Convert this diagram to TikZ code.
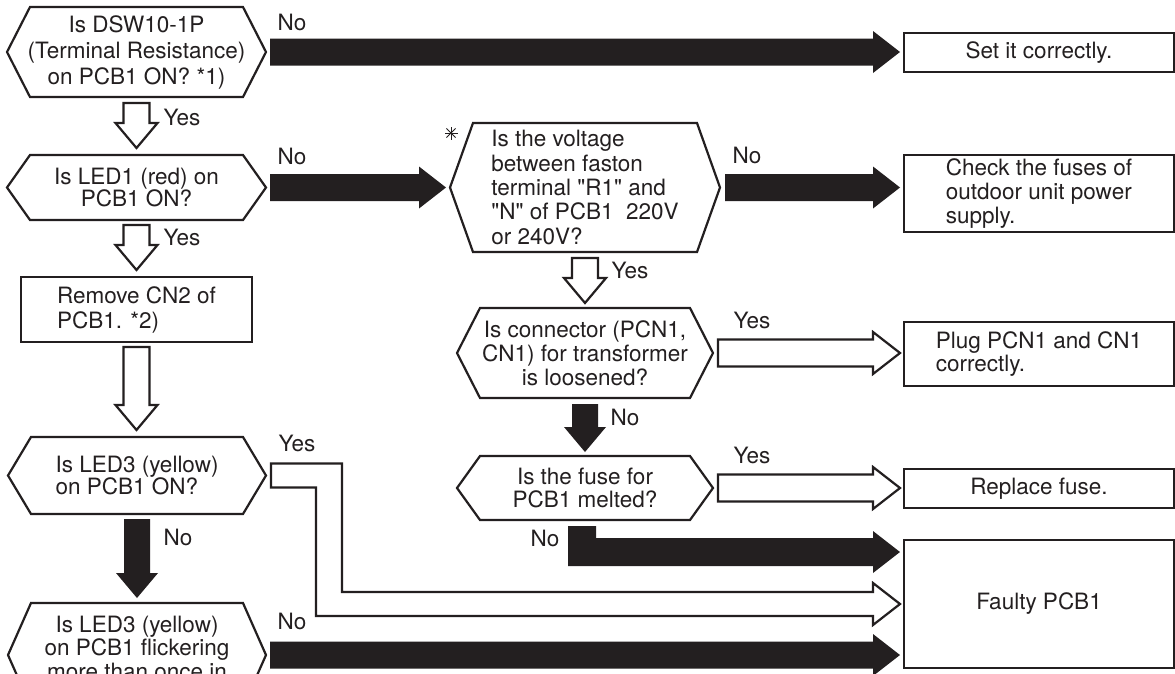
\documentclass[tikz,border=0pt]{standalone}
\usepackage{fontspec}
\setmainfont{TeX Gyre Heros}
\usetikzlibrary{calc}
\definecolor{Ink}{HTML}{231F20}

% straight double quote, kept out of the TeX mapping
\newcommand{\dq}{\XeTeXglyph\XeTeXcharglyph"22\relax}

% hexagon round a query node
\newcommand{\queryframe}[1]{%
  \draw[frame] (#1.west) -- ([xshift=23pt]#1.north west) -- ([xshift=-23pt]#1.north east)
    -- (#1.east) -- ([xshift=-23pt]#1.south east) -- ([xshift=23pt]#1.south west) -- cycle;}

% broad arrows
\newcommand{\fatright}[3]{%
  \path[#1] let \p1=(#2), \p2=(#3) in
    (\x1,\y1+13.5pt) -- (\x2-27pt,\y1+13.5pt) -- (\x2-27pt,\y1+21pt) -- (\x2,\y1)
    -- (\x2-27pt,\y1-21pt) -- (\x2-27pt,\y1-13.5pt) -- (\x1,\y1-13.5pt) -- cycle;}
\newcommand{\fatdown}[3]{%
  \path[#1] let \p1=(#2), \p2=(#3) in
    (\x1-13pt,\y1) -- (\x1+13pt,\y1) -- (\x1+13pt,\y2+25pt) -- (\x1+21pt,\y2+25pt)
    -- (\x1,\y2) -- (\x1-21pt,\y2+25pt) -- (\x1-13pt,\y2+25pt) -- cycle;}

\begin{document}
\begin{tikzpicture}[
  x=1pt, y=-1pt,
  font=\fontsize{22.5}{23.5}\selectfont,
  text=Ink,
  frame/.style={draw=Ink, line width=2.2pt},
  query/.style={
    align=center,
    inner sep=0pt,
    outer sep=0pt
  },
  action/.style={
    draw=Ink,
    line width=2.2pt,
    fill=white,
    align=center,
    inner sep=0pt,
    outer sep=0pt,
    minimum width=270pt
  },
  tag/.style={inner sep=0pt},
  solidarrow/.style={fill=Ink},
  hollowarrow/.style={draw=Ink, line width=2.2pt, fill=white}
]

\useasboundingbox (0,0) rectangle (1175,673);
\clip (0,0) rectangle (1175,673);
\fill[white] (0,0) rectangle (1175,673);

% left column
\node[query, minimum width=259pt, minimum height=90pt,
  font=\fontsize{22.5}{26}\selectfont] (q1) at (136.5,52)
  {Is DSW10-1P\\(Terminal Resistance)\\on PCB1 ON? *1)};
\queryframe{q1}

\node[query, minimum width=259pt, minimum height=65pt,
  font=\fontsize{22.5}{22}\selectfont] (q2) at (136.5,187.5)
  {Is LED1 (red) on\\PCB1 ON?};
\queryframe{q2}

\node[action, align=left, minimum width=231pt, minimum height=65pt,
  font=\fontsize{22.5}{25}\selectfont] (remove) at (136.5,309.5)
  {Remove CN2 of\\PCB1. *2)};

\node[query, align=left, minimum width=258pt, minimum height=77pt,
  font=\fontsize{22.5}{22}\selectfont] (q4) at (137,475.5)
  {Is LED3 (yellow)\\on PCB1 ON?};
\queryframe{q4}

\node[query, minimum width=258pt, minimum height=104pt, text depth=15pt] (q5) at (137,655)
  {Is LED3 (yellow)\\on PCB1 flickering\\more than once in};
\queryframe{q5}

% middle column
\node[query, align=left, minimum width=270pt, minimum height=129pt,
  font=\fontsize{22.5}{24.3}\selectfont] (q3) at (585,187.5)
  {Is the voltage\\between faston\\terminal \dq R1\dq{} and\\\dq N\dq{} of PCB1~\ 220V\\or 240V?};
\queryframe{q3}
\coordinate (star) at (451,133);
\foreach \a in {0,45,90,135}
  \draw[Ink, line width=0.9pt] (star) ++(\a:6.5) -- ++(\a+180:13);

\node[query, minimum width=256pt, minimum height=90pt,
  font=\fontsize{22.5}{24}\selectfont] (q6) at (585,353)
  {Is connector (PCN1,\\CN1) for transformer\\is loosened?};
\queryframe{q6}

\node[query, minimum width=256pt, minimum height=64pt,
  font=\fontsize{22.5}{23}\selectfont] (q7) at (585,488)
  {Is the fuse for\\PCB1 melted?};
\queryframe{q7}

% right column
\node[action, minimum height=39pt] (set) at (1039,52.5) {Set it correctly.};
\node[action, align=left, minimum height=77pt,
  font=\fontsize{22.5}{24}\selectfont] (fuses) at (1039,193.5)
  {Check the fuses of\\outdoor unit power\\supply.};
\node[action, align=left, minimum height=64pt,
  font=\fontsize{22.5}{23}\selectfont] (plug) at (1039,354)
  {Plug PCN1 and CN1\\correctly.};
\node[action, minimum height=39pt] (replace) at (1039,488.5) {Replace fuse.};
\node[action, minimum height=128pt] (fault) at (1039,604) {Faulty PCB1};

% connectors
\fatright{solidarrow}{[xshift=4pt]q1.east}{[xshift=-4pt]set.west}
\fatright{solidarrow}{[xshift=4pt]q2.east}{[xshift=-4pt]q3.west}
\fatright{solidarrow}{[xshift=5pt]q3.east}{[xshift=-4pt]fuses.west}
\fatright{hollowarrow}{[xshift=5pt]q6.east}{[xshift=-4pt]plug.west}
\fatright{hollowarrow}{[xshift=5pt]q7.east}{[xshift=-4pt]replace.west}
\fatright{solidarrow}{[xshift=4pt]q5.east}{[xshift=-4pt]fault.west}

\fatdown{hollowarrow}{[shift={(0,6)}]q1.south}{[shift={(0,-7)}]q2.north}
\fatdown{hollowarrow}{[shift={(0,5)}]q2.south}{[shift={(0,-7)}]remove.north}
\fatdown{hollowarrow}{[shift={(0,5)}]remove.south}{[shift={(0,-7)}]q4.north}
\fatdown{solidarrow}{[shift={(0,5)}]q4.south}{[shift={(0,-5)}]q5.north}
\fatdown{hollowarrow}{[shift={(0,6)}]q3.south}{[shift={(0,-5)}]q6.north}
\fatdown{solidarrow}{[shift={(0,6)}]q6.south}{[shift={(0,-4)}]q7.north}

\path[hollowarrow] let \p1=([xshift=5pt]q4.east), \p2=([xshift=-4pt]fault.west) in
  (\x1,\y1+12pt) -- (\x1+71pt,\y1+12pt) -- (\x1+71pt,\y2+12pt) -- (\x2-27pt,\y2+12pt)
  -- (\x2-27pt,\y2+21pt) -- (\x2,\y2) -- (\x2-27pt,\y2-21pt) -- (\x2-27pt,\y2-12pt)
  -- (\x1+45pt,\y2-12pt) -- (\x1+45pt,\y1-12pt) -- (\x1,\y1-12pt) -- cycle;

\path[solidarrow] let \p1=([shift={(-3,6)}]q7.south), \p2=([shift={(-4,12)}]fault.north west) in
  (\x1-14pt,\y1) -- (\x1+14pt,\y1) -- (\x1+14pt,\y2+14pt) -- (\x2-27pt,\y2+14pt)
  -- (\x2-27pt,\y2+21pt) -- (\x2,\y2) -- (\x2-27pt,\y2-21pt) -- (\x2-27pt,\y2-14pt)
  -- (\x1-14pt,\y2-14pt) -- cycle;

% labels
\node[tag] (no1) at (292,22) {No};
\node[tag] (yes1) at (182,117) {Yes};
\node[tag] (no2) at (292,156) {No};
\node[tag] (yes2) at (182,237) {Yes};
\node[tag] (no3) at (747,155) {No};
\node[tag] (yes3) at (630,270) {Yes};
\node[tag] (yes6) at (752,320) {Yes};
\node[tag] (no6) at (625,417) {No};
\node[tag] (yes4) at (297,443) {Yes};
\node[tag] (yes7) at (752,455) {Yes};
\node[tag] (no4) at (178,537) {No};
\node[tag] (no7) at (545,538) {No};
\node[tag] (no5) at (292,621) {No};

\end{tikzpicture}
\end{document}
